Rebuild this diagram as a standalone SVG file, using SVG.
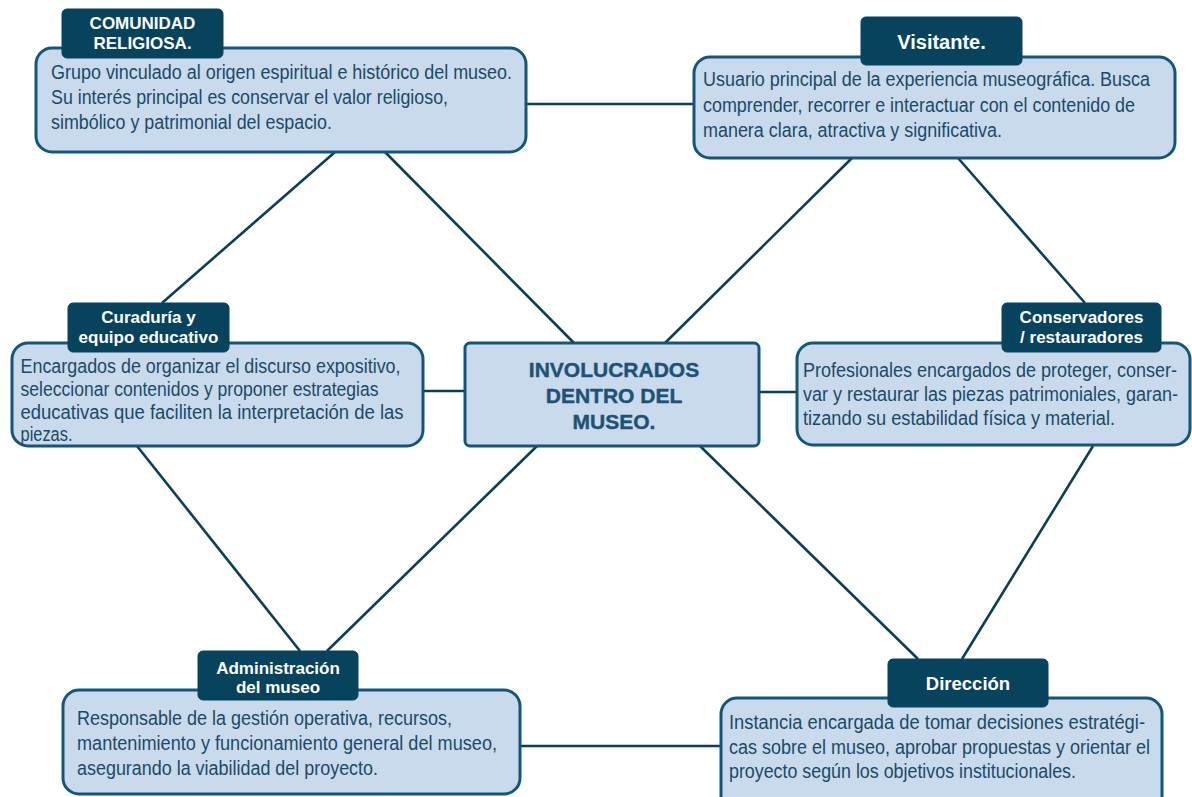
<svg xmlns="http://www.w3.org/2000/svg" width="1192" height="797" viewBox="0 0 1192 797">
<style>
.body{fill:#c9daed;stroke:#14567a;stroke-width:3}
.hdr{fill:#08435e;stroke:#08435e;stroke-width:1}
.ht{font-family:"Liberation Sans",Arial,sans-serif;font-weight:bold;font-size:17px;fill:#ffffff;text-anchor:middle}
.bt{font-family:"Liberation Sans",Arial,sans-serif;font-size:19.5px;fill:#1a4a68}
.ct{font-family:"Liberation Sans",Arial,sans-serif;font-weight:bold;font-size:21px;fill:#1d5274;text-anchor:middle;stroke:#1d5274;stroke-width:0.4}
.conn line{stroke:#0b3f59;stroke-width:2.6;fill:none}
</style>
<rect width="1192" height="797" fill="#ffffff"/>
<g class="conn" id="connectors">
<line x1="525" y1="104" x2="694" y2="104"/>
<line x1="335" y1="152" x2="162" y2="303"/>
<line x1="385" y1="152" x2="574" y2="343"/>
<line x1="852" y1="158" x2="665" y2="343"/>
<line x1="958" y1="158" x2="1085" y2="303"/>
<line x1="423" y1="391" x2="465" y2="391"/>
<line x1="759" y1="392" x2="797" y2="392"/>
<line x1="137" y1="446" x2="300" y2="651"/>
<line x1="537" y1="446" x2="327" y2="651"/>
<line x1="700" y1="446" x2="918" y2="659"/>
<line x1="1093" y1="446" x2="962" y2="659"/>
<line x1="520" y1="746" x2="721" y2="746"/>
</g>
<g id="comunidad">
<rect class="body" x="36" y="48" width="490" height="104" rx="16"/>
<rect class="hdr" x="62" y="9" width="161" height="49" rx="5"/>
<text class="ht" x="142.5" y="29">COMUNIDAD</text>
<text class="ht" x="142.5" y="49">RELIGIOSA.</text>
<text class="bt" x="51" y="79" textLength="461" lengthAdjust="spacingAndGlyphs">Grupo vinculado al origen espiritual e histórico del museo.</text>
<text class="bt" x="51" y="104" textLength="397" lengthAdjust="spacingAndGlyphs">Su interés principal es conservar el valor religioso,</text>
<text class="bt" x="51" y="129" textLength="281" lengthAdjust="spacingAndGlyphs">simbólico y patrimonial del espacio.</text>
</g>
<g id="visitante">
<rect class="body" x="694" y="57" width="481" height="101" rx="16"/>
<rect class="hdr" x="861" y="17" width="161" height="48" rx="5"/>
<text class="ht" x="941.5" y="49" style="font-size:20px">Visitante.</text>
<text class="bt" x="703" y="86" textLength="447" lengthAdjust="spacingAndGlyphs">Usuario principal de la experiencia museográfica. Busca</text>
<text class="bt" x="703" y="111.5" textLength="432" lengthAdjust="spacingAndGlyphs">comprender, recorrer e interactuar con el contenido de</text>
<text class="bt" x="703" y="137" textLength="299" lengthAdjust="spacingAndGlyphs">manera clara, atractiva y significativa.</text>
</g>
<g id="curaduria">
<rect class="body" x="12" y="343" width="411" height="103" rx="16"/>
<rect class="hdr" x="68" y="303" width="161" height="49" rx="5"/>
<text class="ht" x="148.5" y="323">Curaduría y</text>
<text class="ht" x="148.5" y="343">equipo educativo</text>
<text class="bt" x="20.5" y="373" textLength="380" lengthAdjust="spacingAndGlyphs">Encargados de organizar el discurso expositivo,</text>
<text class="bt" x="20.5" y="396" textLength="358" lengthAdjust="spacingAndGlyphs">seleccionar contenidos y proponer estrategias</text>
<text class="bt" x="20.5" y="419" textLength="383" lengthAdjust="spacingAndGlyphs">educativas que faciliten la interpretación de las</text>
<text class="bt" x="20.5" y="441" textLength="52" lengthAdjust="spacingAndGlyphs">piezas.</text>
</g>
<g id="centro">
<rect class="body" x="465" y="343" width="294" height="103" rx="5"/>
<text class="ct" x="614" y="377">INVOLUCRADOS</text>
<text class="ct" x="614" y="403">DENTRO DEL</text>
<text class="ct" x="614" y="429">MUSEO.</text>
</g>
<g id="conservadores">
<rect class="body" x="797" y="343" width="393" height="102" rx="16"/>
<rect class="hdr" x="1002" y="303" width="159" height="49" rx="5"/>
<text class="ht" x="1081.5" y="323">Conservadores</text>
<text class="ht" x="1081.5" y="343">/ restauradores</text>
<text class="bt" x="803" y="377" textLength="374" lengthAdjust="spacingAndGlyphs">Profesionales encargados de proteger, conser-</text>
<text class="bt" x="803" y="401" textLength="375" lengthAdjust="spacingAndGlyphs">var y restaurar las piezas patrimoniales, garan-</text>
<text class="bt" x="803" y="425" textLength="312" lengthAdjust="spacingAndGlyphs">tizando su estabilidad física y material.</text>
</g>
<g id="administracion">
<rect class="body" x="63" y="690" width="457" height="104" rx="16"/>
<rect class="hdr" x="198" y="651" width="160" height="49" rx="5"/>
<text class="ht" x="278" y="674">Administración</text>
<text class="ht" x="278" y="693">del museo</text>
<text class="bt" x="77" y="725" textLength="375" lengthAdjust="spacingAndGlyphs">Responsable de la gestión operativa, recursos,</text>
<text class="bt" x="77" y="750" textLength="420" lengthAdjust="spacingAndGlyphs">mantenimiento y funcionamiento general del museo,</text>
<text class="bt" x="77" y="775" textLength="301" lengthAdjust="spacingAndGlyphs">asegurando la viabilidad del proyecto.</text>
</g>
<g id="direccion">
<rect class="body" x="721" y="698" width="441" height="115" rx="16"/>
<rect class="hdr" x="888" y="659" width="160" height="48" rx="5"/>
<text class="ht" x="968" y="690" style="font-size:18.5px">Dirección</text>
<text class="bt" x="729" y="729" textLength="416" lengthAdjust="spacingAndGlyphs">Instancia encargada de tomar decisiones estratégi-</text>
<text class="bt" x="729" y="754" textLength="421" lengthAdjust="spacingAndGlyphs">cas sobre el museo, aprobar propuestas y orientar el</text>
<text class="bt" x="729" y="778" textLength="347" lengthAdjust="spacingAndGlyphs">proyecto según los objetivos institucionales.</text>
</g>
</svg>
